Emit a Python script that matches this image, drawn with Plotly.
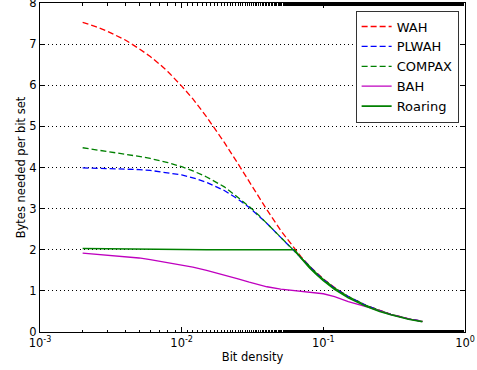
import plotly.graph_objects as go

density = [0.002, 0.0025, 0.003, 0.004, 0.005, 0.006, 0.007, 0.008, 0.01, 0.012,
           0.015, 0.02, 0.025, 0.03, 0.035, 0.04, 0.05, 0.0625, 0.07, 0.08,
           0.09, 0.1, 0.12, 0.15, 0.2, 0.25, 0.3, 0.4, 0.5]

wah = [7.53, 7.42, 7.31, 7.10, 6.89, 6.70, 6.51, 6.33, 5.98, 5.67,
       5.23, 4.61, 4.09, 3.65, 3.28, 2.97, 2.47, 2.03, 1.82, 1.60,
       1.43, 1.29, 1.08, 0.86, 0.65, 0.52, 0.43, 0.32, 0.26]

plwah = [3.99, 3.98, 3.98, 3.97, 3.95, 3.93, 3.90, 3.88, 3.82, 3.75,
         3.64, 3.44, 3.23, 3.03, 2.83, 2.64, 2.30, 1.96, 1.78, 1.58,
         1.42, 1.28, 1.07, 0.86, 0.65, 0.52, 0.43, 0.32, 0.26]

compax = [4.48, 4.43, 4.39, 4.33, 4.27, 4.22, 4.17, 4.12, 4.02, 3.92,
          3.77, 3.53, 3.27, 3.05, 2.84, 2.64, 2.30, 1.96, 1.78, 1.58,
          1.42, 1.28, 1.07, 0.86, 0.65, 0.52, 0.43, 0.32, 0.26]

bah = [1.92, 1.89, 1.87, 1.84, 1.80, 1.76, 1.72, 1.69, 1.63, 1.58,
       1.50, 1.39, 1.29, 1.21, 1.15, 1.10, 1.04, 1.00, 0.985, 0.965,
       0.945, 0.93, 0.86, 0.74, 0.62, 0.50, 0.42, 0.32, 0.25]

roaring = [2.03, 2.025, 2.02, 2.015, 2.01, 2.01, 2.005, 2.005, 2.0, 2.0,
           2.0, 2.0, 2.0, 2.0, 2.0, 2.0, 2.0, 2.0, 1.79, 1.56,
           1.39, 1.25, 1.04, 0.83, 0.625, 0.5, 0.42, 0.31, 0.25]

x_tickvals = [0.001, 0.01, 0.1, 1]
x_ticktext = ["10<sup>-3</sup>", "10<sup>-2</sup>", "10<sup>-1</sup>", "10<sup>0</sup>"]
y_tickvals = [0, 1, 2, 3, 4, 5, 6, 7, 8]

series = [
    ("WAH", wah, "#ff0000", "6px,3px", 1.3),
    ("PLWAH", plwah, "#0000ff", "6px,3px", 1.3),
    ("COMPAX", compax, "#008000", "6px,3px", 1.3),
    ("BAH", bah, "#bf00bf", "solid", 1.3),
    ("Roaring", roaring, "#008000", "solid", 1.6),
]

fig = go.Figure()
for name, vals, color, dash, w in series:
    fig.add_trace(go.Scatter(x=density, y=vals, mode="lines", name=name,
                             line=dict(color=color, dash=dash, width=w)))

fig.update_layout(
    width=477, height=370,
    margin=dict(l=40, r=12, t=3, b=38, autoexpand=False),
    paper_bgcolor="white", plot_bgcolor="white",
    font=dict(family="DejaVu Sans", size=11, color="black"),
    showlegend=True,
    legend=dict(x=0.985, y=0.977, xanchor="right", yanchor="top",
                bgcolor="white", bordercolor="#333333", borderwidth=1,
                font=dict(size=13), itemwidth=30, tracegroupgap=0),
)
fig.update_xaxes(
    type="log", range=[-3, 0], automargin=False,
    tickvals=x_tickvals, ticktext=x_ticktext, ticklabeloverflow="allow",
    ticks="inside", ticklen=5, tickcolor="black", tickfont=dict(size=11.5),
    showline=True, linecolor="black", linewidth=1, mirror="ticks",
    showgrid=False, zeroline=False,
    minor=dict(ticks="inside", ticklen=2.5, tickcolor="black", showgrid=False),
    title=dict(text="Bit density", font=dict(size=11.5), standoff=4),
)
fig.update_yaxes(
    range=[0, 8], tickvals=y_tickvals, automargin=False, ticklabeloverflow="allow",
    ticks="inside", ticklen=4, tickcolor="black", tickfont=dict(size=11.5),
    showline=True, linecolor="black", linewidth=1, mirror="ticks",
    showgrid=True, gridcolor="black", griddash="1px,3px", gridwidth=1,
    zeroline=False,
    title=dict(text="Bytes needed per bit set", font=dict(size=11.5), standoff=1),
)

fig.write_html("out.html", config={"displayModeBar": False},
               post_script="document.body.style.margin='0';document.body.style.overflow='hidden';")
